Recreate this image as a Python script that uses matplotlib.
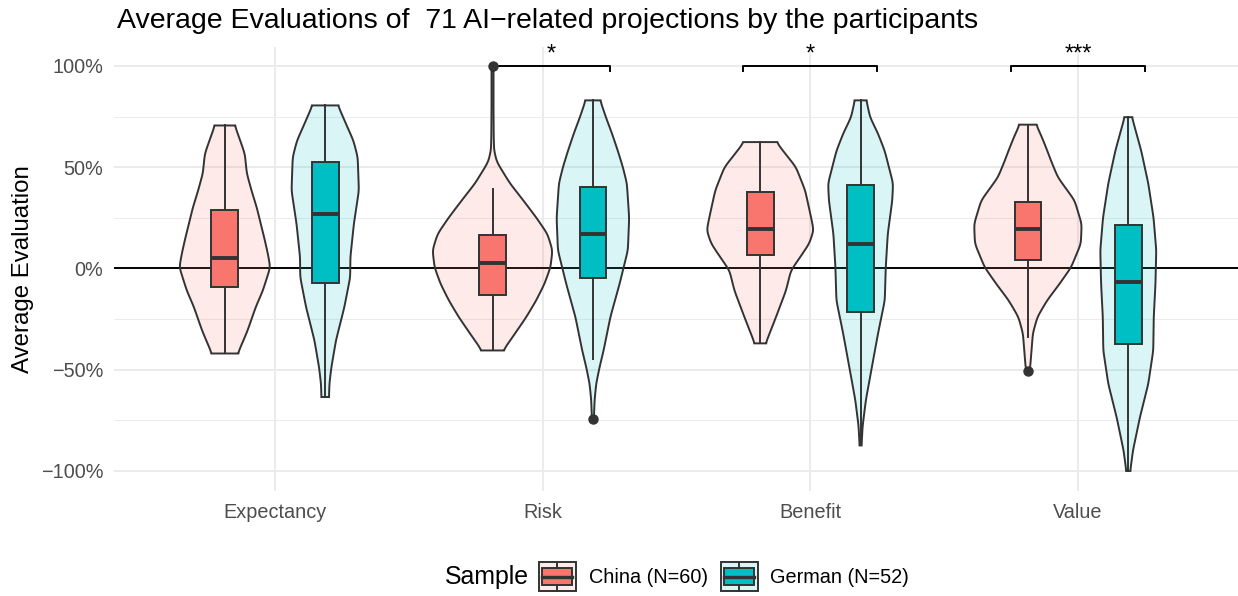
import numpy as np
import matplotlib
matplotlib.use("Agg")
import matplotlib.pyplot as plt
from matplotlib.patches import Rectangle
from matplotlib.lines import Line2D
from matplotlib.legend_handler import HandlerBase
from matplotlib.ticker import FuncFormatter, MultipleLocator

plt.rcParams['font.family'] = ['Liberation Sans', 'DejaVu Sans']

# ---------------- data ----------------
categories = ["Expectancy", "Risk", "Benefit", "Value"]
groups = ["China (N=60)", "German (N=52)"]
colors = ["#F8766D", "#00BFC4"]

# violin profiles: evaluation level (%) and relative density
china_levels = [
    [70.6, 63, 56.6, 47, 38.5, 30, 22, 14, 7.4, 0.6, -11, -19, -31, -42],
    [100, 80, 65, 58, 56.6, 53, 50, 42, 33.6, 25, 17, 9, 0.6, -7.6, -15.8, -24, -32, -40.5],
    [62.4, 58, 50, 38.5, 25, 18.8, 12.2, 5.6, -1, -10.9, -24, -37],
    [71, 64.8, 58, 53, 45, 33.6, 22, 12.2, 0.6, -7.6, -15.8, -24, -32, -48.7, -50.7],
]
china_density = [
    [10, 15.5, 20, 22, 26.7, 32, 36, 40, 43, 45.5, 38, 31, 22.5, 13],
    [1, 1, 1.2, 1.6, 2.5, 4, 7.5, 17.5, 30.8, 44, 55, 60, 58, 52, 43.7, 33.8, 22.7, 10.7],
    [16.2, 23, 35.8, 45, 51, 53.5, 49, 40, 30.8, 25.8, 15.8, 5.5],
    [8.3, 14, 19.5, 23.3, 30, 46.7, 53.8, 53, 43.3, 31.7, 19.2, 9.5, 5, 2.3, 1.5],
]
german_levels = [
    [80.5, 71.4, 63, 55, 38.5, 22, 5.6, -4.3, -19, -35.5, -48.7, -57, -63.5],
    [83, 74.7, 66.5, 58, 50, 42, 25, 9, -7.6, -24, -40.5, -48.7, -57, -65, -74.2],
    [83, 74.7, 66.5, 58, 42, 33.6, 17, 0.6, -15.8, -32, -48.7, -65, -78, -87.4],
    [74.7, 58, 42, 25, 9, -7.6, -24, -40.5, -57, -73.4, -89.9, -100],
]
german_density = [
    [12.8, 20.8, 28.3, 32.5, 33.7, 28.7, 25.2, 25, 19.2, 10.8, 6.2, 4.2, 3.8],
    [7.3, 13, 19.2, 25, 30, 34, 36.3, 35, 26.7, 17.5, 10.7, 6.7, 3.3, 1.7, 1],
    [5.8, 9.5, 17.5, 24.2, 32.5, 31.7, 27.2, 25.2, 24.2, 17.5, 11.3, 5.3, 2, 1],
    [3.7, 13, 20, 25.3, 28, 27.2, 25.5, 25, 20, 11.7, 4.7, 2],
]

# boxplot statistics (%)
china_q1 = [-9, -13.3, 6.8, 4]
china_med = [5.3, 2.8, 19.6, 19.6]
china_q3 = [29, 16.3, 37.7, 32.8]
china_lo = [-42, -40.5, -37, -33.9]
china_hi = [70.6, 39.3, 62.4, 71]
china_out = [[], [100], [], [-50.7]]

german_q1 = [-7.2, -4.8, -21.6, -37.2]
german_med = [27, 16.8, 12.2, -6.8]
german_q3 = [52.5, 40.2, 41.3, 21.7]
german_lo = [-63.5, -44.6, -87.4, -100]
german_hi = [80.5, 83, 83, 74.7]
german_out = [[], [-74.2], [], []]

# significance brackets
sig_labels = ["*", "*", "***"]
sig_cats = [1, 2, 3]
sig_y = 100

# ---------------- layout ----------------
W, H = 1238, 596
fig = plt.figure(figsize=(W / 100, H / 100), dpi=100)
ax = fig.add_axes([114.4 / W, 105 / H, 1124.3 / W, 444.3 / H])
ax.set_xlim(-0.6, 3.6)
ax.set_ylim(-109.9, 109.5)

for s in ax.spines.values():
    s.set_visible(False)
ax.yaxis.set_major_locator(MultipleLocator(50))
ax.yaxis.set_minor_locator(MultipleLocator(25))
ax.yaxis.set_major_formatter(FuncFormatter(lambda v, p: f"{v:.0f}%".replace('-', '\u2212')))
ax.set_xticks(range(len(categories)))
ax.set_xticklabels(categories)
ax.tick_params(axis='both', which='both', length=0, labelsize=14.3, labelcolor='#4D4D4D')
ax.tick_params(axis='y', pad=8)
ax.tick_params(axis='x', pad=8.6)
ax.grid(True, which='major', color='#EBEBEB', lw=1.4)
ax.grid(True, which='minor', axis='y', color='#EBEBEB', lw=0.7)
ax.set_axisbelow(True)

ax.axhline(0, color='black', lw=1.4, zorder=1)

dodge = 0.1875
box_w = 0.1
all_dens = [max(d) for d in china_density + german_density]
max_half = 0.224
dens_max = max(all_dens)
edge = '#333333'


def smooth_profile(levels, dens, n=400, sigma=1.6):
    v = np.asarray(levels, float)[::-1]
    d = np.asarray(dens, float)[::-1]
    y = np.linspace(v.min(), v.max(), n)
    w = np.interp(y, v, d)
    step = y[1] - y[0]
    k = max(1, int(3 * sigma / step))
    t = np.arange(-k, k + 1) * step
    ker = np.exp(-0.5 * (t / sigma) ** 2)
    ker /= ker.sum()
    wp = np.pad(w, k, mode='edge')
    ws = np.convolve(wp, ker, mode='valid')
    return y, ws


def draw_violin(center, levels, dens, color):
    y, w = smooth_profile(levels, dens)
    hw = w / dens_max * max_half
    xs = np.concatenate([center - hw, (center + hw)[::-1]])
    ys = np.concatenate([y, y[::-1]])
    ax.fill(xs, ys, facecolor=matplotlib.colors.to_rgba(color, 0.15),
            edgecolor=edge, lw=1.4, zorder=2)


def draw_box(center, q1, med, q3, lo, hi, out, color):
    st = [dict(q1=q1, med=med, q3=q3, whislo=lo, whishi=hi, fliers=out)]
    ax.bxp(st, positions=[center], widths=box_w, patch_artist=True,
           showcaps=False, manage_ticks=False,
           boxprops=dict(facecolor=color, edgecolor=edge, lw=1.4),
           medianprops=dict(color=edge, lw=2.8, solid_capstyle='butt'),
           whiskerprops=dict(color=edge, lw=1.4),
           flierprops=dict(marker='o', markerfacecolor=edge, markeredgecolor=edge,
                           markersize=6.5),
           zorder=3)


for i in range(len(categories)):
    cx, gx = i - dodge, i + dodge
    draw_violin(cx, china_levels[i], china_density[i], colors[0])
    draw_violin(gx, german_levels[i], german_density[i], colors[1])
    draw_box(cx, china_q1[i], china_med[i], china_q3[i], china_lo[i], china_hi[i],
             china_out[i], colors[0])
    draw_box(gx, german_q1[i], german_med[i], german_q3[i], german_lo[i], german_hi[i],
             german_out[i], colors[1])

tip = 2.5
for lab, c in zip(sig_labels, sig_cats):
    x1 = c - dodge if c == 1 else c - 0.25
    x2 = c + 0.25
    ax.plot([x1, x1, x2, x2], [sig_y - tip, sig_y, sig_y, sig_y - tip], color='black',
            lw=1.4, zorder=2.5, clip_on=False)
    ax.text((x1 + x2) / 2, sig_y + 2.6, lab, ha='center', va='baseline', fontsize=17,
            color='black', clip_on=False)

# title and y label
fig.text(117 / W, 1 - 27.5 / H, "Average Evaluations of  71 AI\u2212related projections by the participants",
         fontsize=20.5, ha='left', va='baseline', color='black')
fig.text(23 / W, 1 - 268.9 / H, "Average Evaluation", rotation=90, fontsize=17.3,
         ha='center', va='center', color='black')


# legend
class BoxKeyHandler(HandlerBase):
    def create_artists(self, legend, orig_handle, xdescent, ydescent, width, height,
                       fontsize, trans):
        color = orig_handle.get_color()
        x0, y0 = -xdescent, -ydescent
        arts = []
        outer = Rectangle((x0, y0), width, height, facecolor=matplotlib.colors.to_rgba(color, 0.15),
                          edgecolor=edge, lw=1.4, transform=trans)
        arts.append(outer)
        cxk = x0 + width / 2
        arts.append(Line2D([cxk, cxk], [y0, y0 + 0.22 * height], color=edge, lw=1.4, transform=trans))
        arts.append(Line2D([cxk, cxk], [y0 + 0.78 * height, y0 + height], color=edge, lw=1.4, transform=trans))
        box = Rectangle((x0 + 0.1 * width, y0 + 0.22 * height), 0.8 * width, 0.56 * height,
                        facecolor=color, edgecolor=edge, lw=1.4, transform=trans)
        arts.append(box)
        arts.append(Line2D([x0 + 0.1 * width, x0 + 0.9 * width], [y0 + 0.5 * height] * 2,
                           color=edge, lw=2.4, transform=trans))
        return arts


handles = [Line2D([], [], color=c) for c in colors]
leg = fig.legend(handles, groups, loc='center', bbox_to_anchor=(724 / W, 1 - 576.5 / H),
                 ncol=2, frameon=False, fontsize=14.3, handlelength=1.86, handleheight=1.86,
                 handletextpad=0.65, columnspacing=0.65, borderpad=0, borderaxespad=0,
                 handler_map={Line2D: BoxKeyHandler()})
fig.text(445 / W, 1 - 584.3 / H, "Sample", fontsize=17.9, ha='left', va='baseline')

fig.savefig("out.png", dpi=100)
